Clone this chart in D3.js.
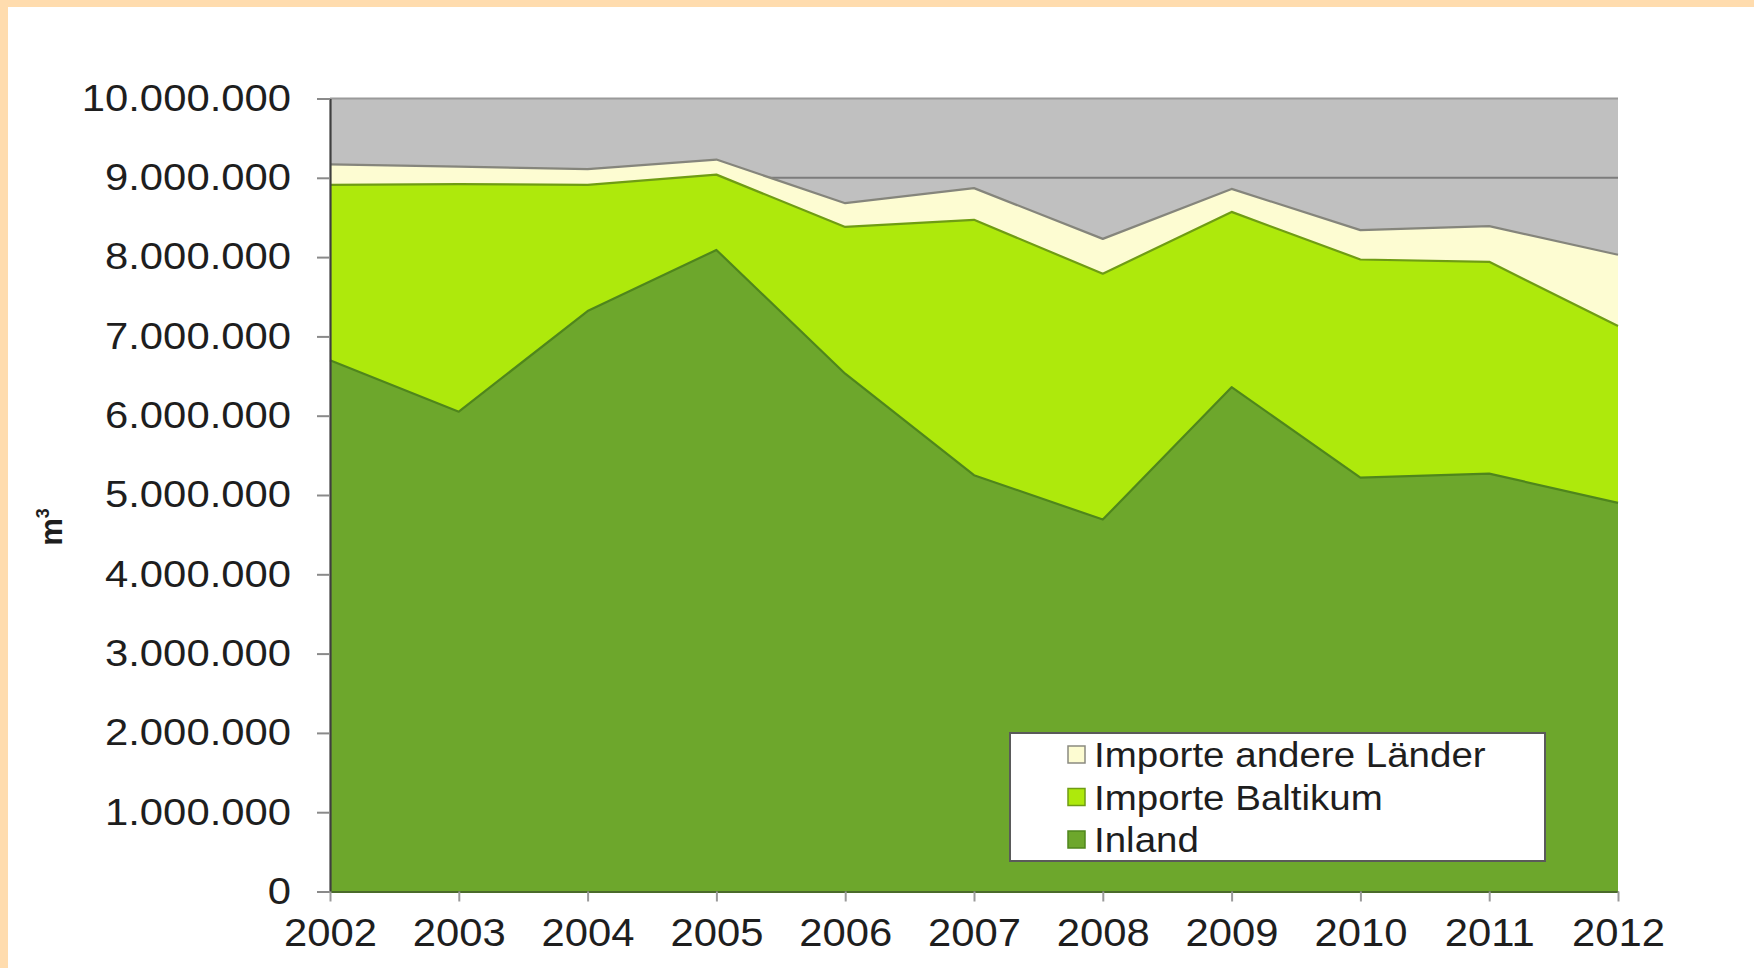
<!DOCTYPE html>
<html>
<head>
<meta charset="utf-8">
<script src="https://cdn.jsdelivr.net/npm/d3@7/dist/d3.min.js"></script>
<style>
  html, body { margin: 0; padding: 0; background: #fff; }
  svg { display: block; }
  text { font-family: "Liberation Sans", Arial, sans-serif; fill: #1e1e1e; }
</style>
</head>
<body>
<svg id="chart" width="1754" height="968"></svg>
<script>
// Holzaufkommen nach Herkunft, 2002–2012 (m³)
const years = [2002, 2003, 2004, 2005, 2006, 2007, 2008, 2009, 2010, 2011, 2012];
const inland = [6700000, 6050000, 7320000, 8090000, 6530000, 5250000, 4690000, 6360000, 5220000, 5270000, 4900000];
const importeBaltikum = [2210000, 2870000, 1590000, 950000, 1850000, 3220000, 3100000, 2210000, 2750000, 2670000, 2230000];
const importeAndere = [260000, 220000, 200000, 190000, 300000, 400000, 440000, 290000, 370000, 450000, 900000];
const yTicks = [0, 1000000, 2000000, 3000000, 4000000, 5000000, 6000000, 7000000, 8000000, 9000000, 10000000];
const seriesKeys = ["Inland", "Importe Baltikum", "Importe andere Länder"];
const legendOrder = ["Importe andere Länder", "Importe Baltikum", "Inland"];
const yTitle = "m";

const fills = { "Inland": "#6da72c", "Importe Baltikum": "#aee90c", "Importe andere Länder": "#fdfcd2" };
const edges = { "Inland": "#4f861c", "Importe Baltikum": "#6f9c14", "Importe andere Länder": "#85857c" };

const svg = d3.select("#chart");

// page frame
svg.append("rect").attr("x", 0).attr("y", 0).attr("width", 1754).attr("height", 968).attr("fill", "#fff");
svg.append("rect").attr("x", 0).attr("y", 0).attr("width", 1754).attr("height", 7).attr("fill", "#ffdcae");
svg.append("rect").attr("x", 0).attr("y", 0).attr("width", 8).attr("height", 968).attr("fill", "#ffdcae");

const x = d3.scaleLinear().domain([2002, 2012]).range([330, 1618]);
const y = d3.scaleLinear().domain([0, 10000000]).range([891.5, 98.5]);

const de = d3.formatLocale({ decimal: ",", thousands: ".", grouping: [3], currency: ["", " €"] });
const fmt = de.format(",d");

// stretch text horizontally by a factor
function stretch(sel, k) {
  sel.each(function () {
    const w = this.getComputedTextLength();
    d3.select(this).attr("textLength", w * k).attr("lengthAdjust", "spacingAndGlyphs");
  });
}

// plot background
svg.append("rect")
  .attr("x", x(2002)).attr("y", y(10000000))
  .attr("width", x(2012) - x(2002)).attr("height", y(0) - y(10000000))
  .attr("fill", "#c0c0c0");

// gridlines (behind the areas)
svg.append("g").selectAll("line").data(yTicks.slice(1))
  .join("line")
  .attr("x1", x(2002)).attr("x2", x(2012))
  .attr("y1", d => y(d)).attr("y2", d => y(d))
  .attr("stroke", d => d === 10000000 ? "#9a9a9a" : "#7c7c7c")
  .attr("stroke-width", 2);

// stacked data
const table = years.map((yr, i) => ({
  year: yr,
  "Inland": inland[i],
  "Importe Baltikum": importeBaltikum[i],
  "Importe andere Länder": importeAndere[i]
}));
const stacked = d3.stack().keys(seriesKeys)(table);

const area = d3.area()
  .x(d => x(d.data.year))
  .y0(d => y(d[0]))
  .y1(d => y(d[1]));
const topLine = d3.line()
  .x(d => x(d.data.year))
  .y(d => y(d[1]));

const layers = svg.append("g");
layers.selectAll("path.area").data(stacked)
  .join("path")
  .attr("class", "area")
  .attr("d", area)
  .attr("fill", d => fills[d.key]);
layers.selectAll("path.edge").data(stacked)
  .join("path")
  .attr("class", "edge")
  .attr("d", topLine)
  .attr("fill", "none")
  .attr("stroke", d => edges[d.key])
  .attr("stroke-width", 2.2)
  .attr("stroke-linejoin", "round");

// y axis
const yAxis = svg.append("g")
  .attr("transform", `translate(${x(2002)},0)`)
  .call(d3.axisLeft(y).tickValues(yTicks).tickFormat(fmt).tickSizeOuter(0).tickSizeInner(13).tickPadding(26));
yAxis.select(".domain").attr("stroke", "#3f3f3f").attr("stroke-width", 2.2);
yAxis.selectAll(".tick line").attr("stroke", "#8a8a8a").attr("stroke-width", 2);
yAxis.selectAll(".tick text")
  .attr("font-size", 37).attr("fill", "#1e1e1e")
  .attr("font-family", "Liberation Sans, Arial, sans-serif")
  .call(stretch, 1.13);

// x axis
const xAxis = svg.append("g")
  .attr("transform", `translate(0,${y(0)})`)
  .call(d3.axisBottom(x).tickValues(years).tickFormat(d3.format("d")).tickSizeOuter(0).tickSizeInner(10).tickPadding(18));
xAxis.select(".domain").attr("stroke", "#4a6a2a").attr("stroke-width", 2);
xAxis.selectAll(".tick line").attr("stroke", "#9a9a9a").attr("stroke-width", 2);
xAxis.selectAll(".tick text")
  .attr("font-size", 38).attr("fill", "#1e1e1e")
  .attr("font-family", "Liberation Sans, Arial, sans-serif")
  .call(stretch, 1.1);

// y axis title
const title = svg.append("text")
  .attr("transform", "translate(62,527) rotate(-90)")
  .attr("text-anchor", "middle")
  .attr("font-size", 31)
  .attr("font-weight", "bold");
title.append("tspan").text(yTitle);
title.append("tspan").attr("font-size", 18).attr("dy", -13).text("3");

// legend
const lg = svg.append("g").attr("transform", "translate(1010,733)");
lg.append("rect")
  .attr("width", 535).attr("height", 128)
  .attr("fill", "#fff").attr("stroke", "#5a5a5a").attr("stroke-width", 2);
const rows = lg.selectAll("g.row").data(legendOrder)
  .join("g")
  .attr("class", "row")
  .attr("transform", (d, i) => `translate(0,${13 + i * 42.5})`);
rows.append("rect")
  .attr("x", 58).attr("y", 0).attr("width", 17).attr("height", 17)
  .attr("fill", d => fills[d])
  .attr("stroke", d => d === "Importe andere Länder" ? "#8a8a80" : edges[d])
  .attr("stroke-width", 1.5);
rows.append("text")
  .attr("x", 84).attr("y", 21)
  .attr("font-size", 35)
  .text(d => d)
  .call(stretch, 1.1);
</script>
</body>
</html>
